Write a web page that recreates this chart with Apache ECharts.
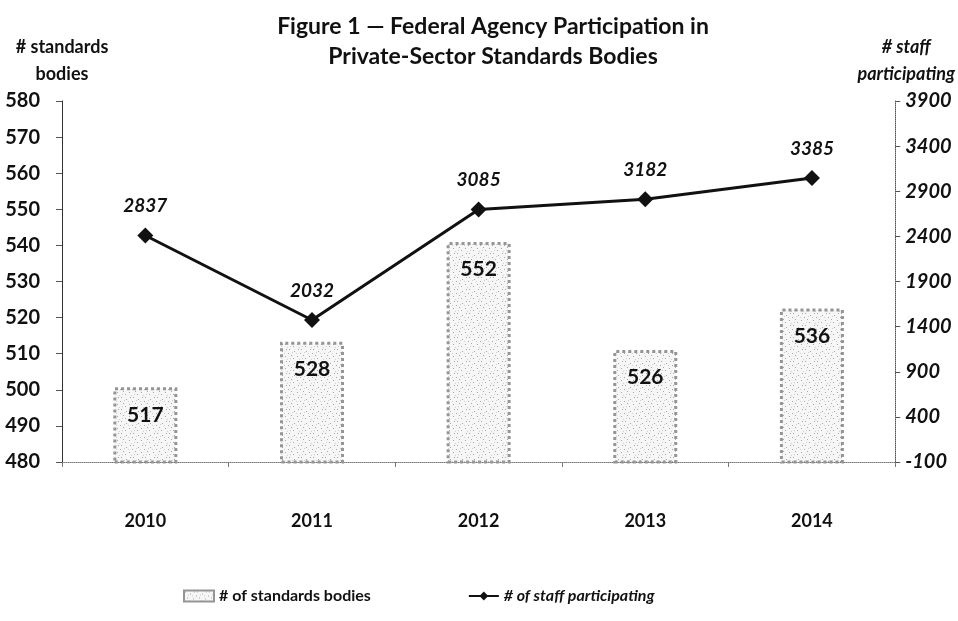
<!DOCTYPE html>
<html>
<head>
<meta charset="utf-8">
<script src="https://cdn.jsdelivr.net/npm/echarts@6/dist/echarts.min.js"></script>
<style>html,body{margin:0;padding:0;background:#fff;}#c{width:958px;height:621px;}</style>
</head>
<body>
<div id="c"></div>
<script>
const years = ['2010', '2011', '2012', '2013', '2014'];
const standardsBodies = [517, 528, 552, 526, 536];
const staffParticipating = [2837, 2032, 3085, 3182, 3385];
const leftTicks = {min: 480, max: 580, interval: 10};
const rightTicks = {min: -100, max: 3900, interval: 500};

// speckled texture for the bars (fixed dot layout)
function makePattern() {
  const c = document.createElement('canvas');
  c.width = 12; c.height = 12;
  const g = c.getContext('2d');
  g.fillStyle = '#f6f6f6';
  g.fillRect(0, 0, 12, 12);
  g.fillStyle = '#a8a8a8';
  const dots = [[1,1],[6,3],[9,8],[3,7],[10,1],[5,10],[0,5]];
  dots.forEach(d => g.fillRect(d[0], d[1], 1, 1));
  g.fillStyle = '#cfcfcf';
  [[8,5],[2,10],[4,4],[11,11]].forEach(d => g.fillRect(d[0], d[1], 1, 1));
  return c;
}
const barPattern = {image: makePattern(), repeat: 'repeat'};

const FONT = 'Lato, "Open Sans", sans-serif';
const chart = echarts.init(document.getElementById('c'));
chart.setOption({
  animation: false,
  backgroundColor: '#fff',
  title: {
    text: 'Figure 1 \u2014 Federal Agency Participation in\nPrivate-Sector Standards Bodies',
    left: 488, top: 7, textAlign: 'center',
    textStyle: {fontFamily: FONT, fontWeight: 'bold', fontSize: 23, lineHeight: 30, color: '#111'}
  },
  legend: {
    bottom: 12, left: 178, itemGap: 97, itemWidth: 30, itemHeight: 11,
    textStyle: {fontFamily: FONT, fontWeight: 'bold', fontSize: 16, color: '#111'},
    data: [
      {name: '# of standards bodies', icon: 'rect'},
      {name: '# of staff participating', textStyle: {fontStyle: 'italic'}}
    ]
  },
  grid: {left: 62, right: 62, top: 101, bottom: 159, containLabel: false},
  xAxis: {
    type: 'category', data: years,
    axisLine: {onZero: false, lineStyle: {color: '#777', type: 'dotted', width: 1}},
    axisTick: {show: true, length: 5, lineStyle: {color: '#777'}},
    axisLabel: {fontFamily: FONT, fontWeight: 'bold', fontSize: 18, color: '#111', margin: 50}
  },
  yAxis: [
    {
      type: 'value', position: 'left', min: leftTicks.min, max: leftTicks.max, interval: leftTicks.interval,
      name: '# standards\nbodies', nameLocation: 'end', nameGap: 13,
      nameTextStyle: {fontFamily: FONT, fontWeight: 'bold', fontSize: 18, lineHeight: 27, color: '#111', align: 'center'},
      axisLine: {show: true, lineStyle: {color: '#333', width: 1}},
      axisTick: {show: true, length: 6, lineStyle: {color: '#555'}},
      axisLabel: {fontFamily: FONT, fontWeight: 'bold', fontSize: 20, color: '#111', margin: 22},
      splitLine: {show: false}
    },
    {
      type: 'value', position: 'right', min: rightTicks.min, max: rightTicks.max, interval: rightTicks.interval,
      name: '# staff\nparticipating', nameLocation: 'end', nameGap: 13,
      nameTextStyle: {fontFamily: FONT, fontWeight: 'bold', fontStyle: 'italic', fontSize: 18, lineHeight: 27, color: '#111', align: 'center',
        padding: [0, 0, 0, 22]},
      axisLine: {show: true, lineStyle: {color: '#555', width: 1, type: 'dotted'}},
      axisTick: {show: true, length: 5, lineStyle: {color: '#555'}},
      axisLabel: {fontFamily: FONT, fontWeight: 'bold', fontStyle: 'italic', fontSize: 20, color: '#111', margin: 10,
        formatter: v => String(v)},
      splitLine: {show: false}
    },
    {type: 'value', show: false, min: 499, max: 586, splitLine: {show: false}},
    {type: 'value', show: false, min: 679, max: 4119, splitLine: {show: false}}
  ],
  series: [
    {
      name: '# of standards bodies', type: 'bar', yAxisIndex: 2, data: standardsBodies, barWidth: 64,
      itemStyle: {color: barPattern, borderColor: '#959595', borderWidth: 3, borderType: 'dotted'},
      label: {show: true, position: 'insideTop', distance: 17, fontFamily: FONT, fontWeight: 'bold', fontSize: 21, color: '#111'}
    },
    {
      name: '# of staff participating', type: 'line', yAxisIndex: 3, data: staffParticipating,
      symbol: 'diamond', symbolSize: 16, z: 5,
      lineStyle: {color: '#111', width: 3}, itemStyle: {color: '#111'},
      label: {show: true, position: 'top', distance: 12, fontFamily: FONT, fontWeight: 'bold', fontStyle: 'italic', fontSize: 19, color: '#111'}
    }
  ]
});
</script>
</body>
</html>
